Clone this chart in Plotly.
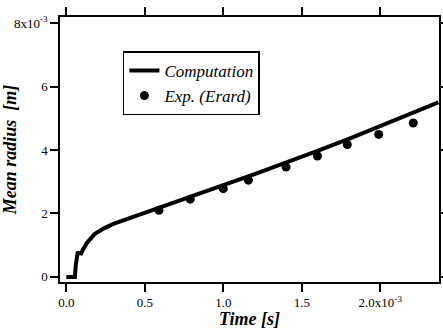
import plotly.graph_objects as go

# Computation curve (time in 1e-3 s, radius in 1e-3 m)
comp_t = [0.0, 0.055, 0.060, 0.066, 0.072, 0.080, 0.095, 0.105, 0.13, 0.18, 0.24, 0.30,
          0.40, 0.51, 0.60, 0.80, 1.00, 1.20, 1.40, 1.60, 1.80, 2.00, 2.20, 2.37]
comp_r = [0.0, 0.0, 0.35, 0.68, 0.75, 0.76, 0.74, 0.85, 1.06, 1.35, 1.53, 1.67,
          1.84, 2.04, 2.20, 2.55, 2.89, 3.24, 3.59, 3.97, 4.35, 4.76, 5.14, 5.50]

# Experimental points (Erard)
exp_t = [0.59, 0.79, 1.00, 1.16, 1.40, 1.60, 1.79, 1.99, 2.21]
exp_r = [2.10, 2.45, 2.78, 3.05, 3.46, 3.81, 4.17, 4.49, 4.85]

x_tickvals = [0.0, 0.5, 1.0, 1.5, 2.0]
x_ticktext = ["0.0", "0.5", "1.0", "1.5", "2.0x10<sup>-3</sup>"]
y_tickvals = [0, 2, 4, 6, 8]
y_ticktext = ["0", "2", "4", "6", "8x10<sup>-3</sup>"]

FONT = "Liberation Serif, Times New Roman, Times, serif"

fig = go.Figure()
fig.add_trace(go.Scatter(x=comp_t, y=comp_r, mode="lines", name="<i>Computation</i>",
                         line=dict(color="black", width=4)))
fig.add_trace(go.Scatter(x=exp_t, y=exp_r, mode="markers", name="<i>Exp. (Erard)</i>",
                         marker=dict(color="black", size=9)))

axis_common = dict(showline=True, linecolor="black", linewidth=1.5, mirror="allticks",
                   ticks="outside", ticklen=8, tickwidth=1.5, tickcolor="black",
                   showgrid=False, zeroline=False, automargin=False,
                   tickfont=dict(family=FONT, size=13, color="black"))

fig.update_xaxes(range=[-0.04, 2.374], tickvals=x_tickvals, ticktext=x_ticktext,
                 title=dict(text="<b><i>Time [s]</i></b>", standoff=0,
                            font=dict(family=FONT, size=18, color="black")),
                 **axis_common)
fig.update_yaxes(range=[-0.16, 8.19], tickvals=y_tickvals, ticktext=y_ticktext,
                 title=dict(text="<b><i>Mean radius  [m]</i></b>", standoff=2,
                            font=dict(family=FONT, size=18, color="black")),
                 **axis_common)

fig.update_layout(
    width=443, height=329,
    margin=dict(l=60, r=4, t=17, b=47, autoexpand=False),
    paper_bgcolor="white", plot_bgcolor="white",
    showlegend=True,
    font=dict(family=FONT, color="black"),
    legend=dict(x=0.166, y=0.87, xanchor="left", yanchor="top",
                bgcolor="white", bordercolor="black", borderwidth=1.5,
                font=dict(family=FONT, size=17, color="black"),
                tracegroupgap=0, itemwidth=30),
)

fig.write_html("out.html", config={"displayModeBar": False},
               post_script="document.body.style.margin='0';document.body.style.padding='0';")
